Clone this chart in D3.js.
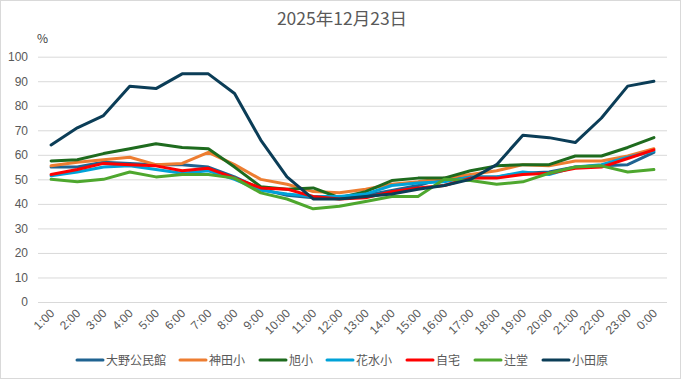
<!DOCTYPE html>
<html><head><meta charset="utf-8">
<script src="https://cdn.jsdelivr.net/npm/d3@7"></script>
<style>html,body{margin:0;padding:0;background:#fff;}svg{display:block;font-family:"Noto Sans CJK JP","Liberation Sans",sans-serif;}</style>
</head><body>
<svg id="c" width="681" height="379"></svg>
<script>
const title = "2025年12月23日";
const categories = ["1:00","2:00","3:00","4:00","5:00","6:00","7:00","8:00","9:00","10:00","11:00","12:00","13:00","14:00","15:00","16:00","17:00","18:00","19:00","20:00","21:00","22:00","23:00","0:00"];
const yTicks = [0,10,20,30,40,50,60,70,80,90,100];
const seriesNames = ["大野公民館","神田小","旭小","花水小","自宅","辻堂","小田原"];
const seriesColors = ["#1F6391","#ED7D31","#1E6B1E","#00A2D8","#FF0000","#4EA72E","#0B3D57"];
const oono   = [55,55,57,56.5,56,56,55,51,46,43.5,42.5,42.5,43.5,45.5,47.5,50.5,51,51,52.5,53,55,55.5,56,61];
const kanda  = [55.5,57,58,59,56,56.5,61,56,50,48,45,44.5,46,48,49,50.5,52,53.5,56,55.5,57.5,57.5,59.5,62.5];
const asahi  = [57.5,58,60.5,62.5,64.5,63,62.5,55,47,46,46.5,42.5,45,49.5,50.5,50.5,53.5,55.5,56,56,59.5,59.5,63,67];
const hanamizu = [51.5,53,55,55.5,54,52.5,53.5,50,45.5,44,43,43,44,47.5,48.5,49,51,51,53,52,55,56,59,61.5];
const jitaku = [52,54,56.5,56,55.5,53.5,54.5,50.5,46.5,46,43,42,42.5,45,46.5,47.5,50.5,50.5,52,52.5,54.5,55,58.5,62];
const tsujido = [50,49,50,53,51,52,52,50.5,44.5,42,38,39,41,43,43,50,49.5,48,49,52.5,55,55.5,53,54];
const odawara = [64,71,76,88,87,93,93,85,66,51,42,42,43,44,46,47.5,50,56,68,67,65,75,88,90];
const seriesValues = [oono,kanda,asahi,hanamizu,jitaku,tsujido,odawara];

const svg = d3.select("#c");
svg.append("rect").attr("x",0.5).attr("y",0.5).attr("width",680).attr("height",378)
  .attr("fill","#fff").attr("stroke","#D9D9D9");

const L=38, R=667, T=56.7, B=302;
const x = d3.scaleBand().domain(categories).range([L,R]);
const y = d3.scaleLinear().domain([0,100]).range([B,T]);

svg.append("text").attr("x",342).attr("y",25).attr("text-anchor","middle")
  .attr("font-size",17.5).attr("fill","#595959").text(title);
svg.append("text").attr("x",37).attr("y",43).attr("font-size",12).attr("fill","#404040").text("%");

const gy = svg.append("g").attr("transform",`translate(${L},0)`)
  .call(d3.axisLeft(y).tickValues(yTicks).tickSize(-(R-L)).tickPadding(10));
gy.select(".domain").remove();
gy.selectAll(".tick line").attr("stroke","#D9D9D9");
gy.selectAll(".tick text").attr("fill","#595959").attr("font-size",12).attr("font-family","Liberation Sans, sans-serif");

const gx = svg.append("g").attr("transform",`translate(0,${B})`)
  .call(d3.axisBottom(x).tickSize(0).tickPadding(0));
gx.select(".domain").remove();
gx.selectAll(".tick text").attr("fill","#595959").attr("font-size",12)
  .attr("font-family","Liberation Sans, sans-serif")
  .attr("text-anchor","end").attr("dy",0)
  .attr("transform","translate(4,12) rotate(-45)");

const line = d3.line().x((d,i)=>x(categories[i])+x.bandwidth()/2).y(d=>y(d));
seriesValues.forEach((vals,k)=>{
  svg.append("path").datum(vals).attr("d",line).attr("fill","none")
    .attr("stroke",seriesColors[k]).attr("stroke-width",3).attr("stroke-linejoin","round").attr("stroke-linecap","round");
});

const legLineX = [77,180,260,327,407,475,543];
const lg = svg.append("g");
seriesNames.forEach((n,k)=>{
  lg.append("line").attr("x1",legLineX[k]).attr("x2",legLineX[k]+26).attr("y1",360).attr("y2",360)
    .attr("stroke",seriesColors[k]).attr("stroke-width",3).attr("stroke-linecap","round");
  lg.append("text").attr("x",legLineX[k]+29).attr("y",364.5).attr("font-size",12).attr("fill","#595959").text(n);
});
</script>
</body></html>
